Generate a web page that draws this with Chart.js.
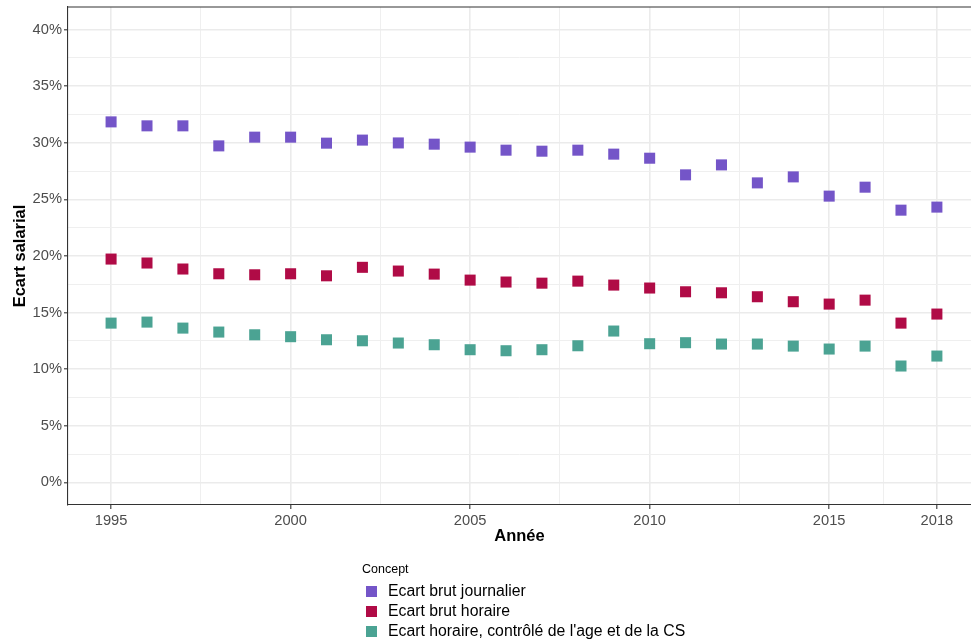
<!DOCTYPE html>
<html lang="fr">
<head>
  <meta charset="UTF-8" />
  <title>Ecart salarial</title>
  <script src="https://cdn.jsdelivr.net/npm/chart.js"></script>
  <style>
    body {
      margin: 0;
      background: #fff;
      font-family: "Liberation Sans", Arial, sans-serif;
    }
    #wrap {
      position: relative;
      width: 971px;
      height: 641px;
    }
    #legend {
      position: absolute;
      left: 362px;
      top: 562px;
      color: #000;
    }
    #legend .title {
      font-size: 12.5px;
      height: 19px;
    }
    #legend .item {
      position: relative;
      height: 20px;
      line-height: 20px;
      font-size: 15.8px;
      padding-left: 26px;
      white-space: nowrap;
    }
    #legend .sw {
      position: absolute;
      left: 4px;
      top: 4.5px;
      width: 11px;
      height: 11px;
    }
  </style>
</head>
<body>
  <div id="wrap">
    <canvas id="chart" width="971" height="641"></canvas>
    <div id="legend"></div>
  </div>

  <script>
    const years = [1995, 1996, 1997, 1998, 1999, 2000, 2001, 2002, 2003, 2004, 2005, 2006,
                   2007, 2008, 2009, 2010, 2011, 2012, 2013, 2014, 2015, 2016, 2017, 2018];

    const brutJournalier = [31.85, 31.5, 31.5, 29.73, 30.5, 30.5, 29.97, 30.24, 29.99, 29.88, 29.62, 29.35,
                            29.26, 29.35, 29.0, 28.64, 27.17, 28.05, 26.46, 26.99, 25.29, 26.08, 24.05, 24.32];
    const brutHoraire = [19.73, 19.38, 18.85, 18.43, 18.34, 18.43, 18.25, 19.0, 18.67, 18.4, 17.87, 17.7,
                         17.6, 17.78, 17.43, 17.17, 16.84, 16.75, 16.4, 15.96, 15.75, 16.1, 14.07, 14.87];
    const horaireControle = [14.07, 14.16, 13.63, 13.28, 13.04, 12.87, 12.6, 12.51, 12.31, 12.16, 11.72, 11.63,
                             11.72, 12.07, 13.37, 12.25, 12.34, 12.22, 12.22, 12.04, 11.78, 12.04, 10.28, 11.16];

    const seriesNames = ["Ecart brut journalier", "Ecart brut horaire", "Ecart horaire, contrôlé de l'age et de la CS"];
    const seriesColors = ["#7455C8", "#B00B46", "#4BA393"];

    const xMajor = [1995, 2000, 2005, 2010, 2015, 2018];
    const xMinor = [1997.5, 2002.5, 2007.5, 2012.5, 2016.5];
    const yMajor = [0, 5, 10, 15, 20, 25, 30, 35, 40];
    const yMinor = [2.5, 7.5, 12.5, 17.5, 22.5, 27.5, 32.5, 37.5];

    const allSeries = [brutJournalier, brutHoraire, horaireControle];

    const datasets = allSeries.map((vals, i) => ({
      label: seriesNames[i],
      data: years.map((y, j) => ({ x: y, y: vals[j] })),
      pointStyle: 'rect',
      pointRadius: 7.8,
      pointHoverRadius: 7.8,
      pointBorderWidth: 0,
      backgroundColor: seriesColors[i],
      borderColor: seriesColors[i]
    }));

    const gridOpts = (majors) => ({
      color: c => majors.includes(c.tick && c.tick.value) ? '#EBEBEB' : '#EFEFEF',
      lineWidth: c => majors.includes(c.tick && c.tick.value) ? 1.6 : 1,
      tickColor: c => majors.includes(c.tick && c.tick.value) ? '#333333' : 'rgba(0,0,0,0)',
      tickLength: 4,
      tickWidth: 1.1
    });

    // bordure du panneau (haut), gauche et bas viennent des axes
    const frame = {
      id: 'frame',
      afterDraw(chart) {
        const { ctx, chartArea } = chart;
        ctx.save();
        ctx.strokeStyle = '#333333';
        ctx.lineWidth = 1.1;
        ctx.beginPath();
        ctx.moveTo(chartArea.left, chartArea.top);
        ctx.lineTo(chartArea.right, chartArea.top);
        ctx.stroke();
        ctx.restore();
      }
    };

    const font = '"Liberation Sans", Arial, sans-serif';

    const ctx = document.getElementById('chart').getContext('2d');
    const chart = new Chart(ctx, {
      type: 'scatter',
      data: { datasets },
      plugins: [frame],
      options: {
        responsive: false,
        animation: false,
        layout: { autoPadding: false, padding: { top: 7, right: 0, bottom: 91, left: 0 } },
        plugins: {
          legend: { display: false },
          tooltip: { enabled: false }
        },
        scales: {
          x: {
            type: 'linear',
            min: 1993.8,
            max: 2018.95,
            afterBuildTicks: s => { s.ticks = xMajor.concat(xMinor).sort((a, b) => a - b).map(v => ({ value: v })); },
            afterFit: s => { s.height = 45; s.paddingLeft = 0; s.paddingRight = 0; },
            grid: gridOpts(xMajor),
            border: { display: true, color: '#333333', width: 1.1 },
            ticks: {
              autoSkip: false,
              maxRotation: 0,
              padding: 3,
              color: '#4D4D4D',
              font: { family: font, size: 14.7 },
              callback: v => xMajor.includes(v) ? String(v) : ''
            },
            title: {
              display: true,
              text: 'Année',
              color: '#000',
              padding: { top: 0, bottom: 4 },
              font: { family: font, size: 16.5, weight: 'bold' }
            }
          },
          y: {
            type: 'linear',
            min: -2,
            max: 42,
            afterBuildTicks: s => { s.ticks = yMajor.concat(yMinor).sort((a, b) => a - b).map(v => ({ value: v })); },
            afterFit: s => { s.width = 68; s.paddingTop = 0; s.paddingBottom = 0; },
            grid: gridOpts(yMajor),
            border: { display: true, color: '#333333', width: 1.1 },
            ticks: {
              autoSkip: false,
              padding: 2,
              color: '#4D4D4D',
              font: { family: font, size: 14.7 },
              callback: v => yMajor.includes(v) ? v + '%' : ''
            },
            title: {
              display: true,
              text: 'Ecart salarial',
              color: '#000',
              padding: { top: 11, bottom: 0 },
              font: { family: font, size: 16.5, weight: 'bold' }
            }
          }
        }
      }
    });

    // légende en colonne sous le graphique
    const legend = document.getElementById('legend');
    legend.innerHTML = '<div class="title">Concept</div>' + chart.data.datasets.map(d =>
      `<div class="item"><span class="sw" style="background:${d.backgroundColor}"></span>${d.label}</div>`
    ).join('');
  </script>
</body>
</html>
